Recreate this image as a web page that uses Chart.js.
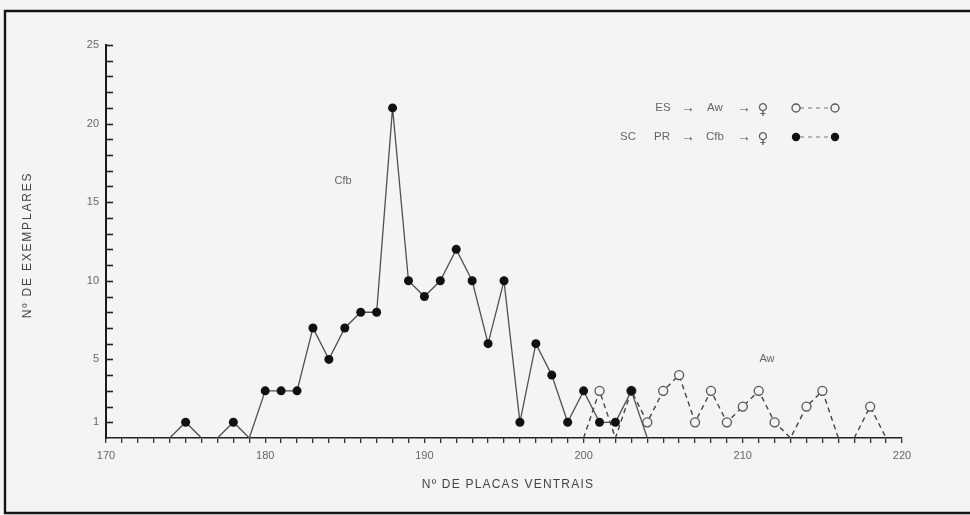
<!DOCTYPE html>
<html>
<head>
<meta charset="utf-8">
<script src="https://cdn.jsdelivr.net/npm/chart.js@4"></script>
<style>
  html, body { margin: 0; padding: 0; background: #f4f4f4; }
  #wrap { width: 970px; height: 515px; }
</style>
</head>
<body>
<div id="wrap"><canvas id="placasChart" width="970" height="515"></canvas></div>
<script>
// Nº de placas ventrais - Cfb (SC, PR) e Aw (ES)

const cfbPlacas = [174, 175, 176, 177, 178, 179, 180, 181, 182, 183, 184, 185, 186, 187, 188, 189,
    190, 191, 192, 193, 194, 195, 196, 197, 198, 199, 200, 201, 202, 203, 204];
const cfbExemplares = [0, 1, 0, 0, 1, 0, 3, 3, 3, 7, 5, 7, 8, 8, 21, 10,
    9, 10, 12, 10, 6, 10, 1, 6, 4, 1, 3, 1, 1, 3, 0];

const awPlacas = [200, 201, 202, 203, 204, 205, 206, 207, 208, 209, 210, 211, 212, 213, 214, 215,
    216, 217, 218, 219];
const awExemplares = [0, 3, 0, 3, 1, 3, 4, 1, 3, 1, 2, 3, 1, 0, 2, 3,
    0, 0, 2, 0];

const xLabels = [170, 180, 190, 200, 210, 220];
const yLabels = [1, 5, 10, 15, 20, 25];

const FONT = "'Liberation Sans', Arial, sans-serif";

// zero -> zero segments are not drawn (the figure breaks the line there)
const skipFlat = ctx => (ctx.p0.parsed.y === 0 && ctx.p1.parsed.y === 0) ? 'rgba(0,0,0,0)' : undefined;
const dotSize = ctx => (ctx.raw && ctx.raw.y === 0) ? 0 : 4.5;

const extras = {
    id: "extras",
    afterDraw(chart) {
        const c = chart.ctx;
        const y = chart.scales.y;
        const area = chart.chartArea;
        c.save();

        // inward ticks on y axis
        c.strokeStyle = "#222";
        c.lineWidth = 1.6;
        for (let v = 1; v <= 25; v++) {
            const py = Math.round(y.getPixelForValue(v)) + 0.5;
            c.beginPath();
            c.moveTo(area.left, py);
            c.lineTo(area.left + 7, py);
            c.stroke();
        }

        // frame
        c.strokeStyle = "#151515";
        c.lineWidth = 2.4;
        c.beginPath();
        c.moveTo(970, 11);
        c.lineTo(5, 11);
        c.lineTo(5, 513);
        c.lineTo(970, 513);
        c.stroke();

        // axis titles
        c.fillStyle = "#444";
        c.font = "12px " + FONT;
        c.textAlign = "center";
        c.textBaseline = "middle";
        c.letterSpacing = "1.2px";
        c.fillText("Nº DE PLACAS VENTRAIS", 508, 485);
        c.save();
        c.translate(28, 245);
        c.rotate(-Math.PI / 2);
        c.letterSpacing = "1.8px";
        c.fillText("Nº DE EXEMPLARES", 0, 0);
        c.restore();
        c.letterSpacing = "0px";

        // region labels
        c.fillStyle = "#666";
        c.font = "11px " + FONT;
        c.fillText("Cfb", 343, 181);
        c.fillText("Aw", 767, 359);

        // legend
        c.font = "11.5px " + FONT;
        c.fillStyle = "#666";
        const r1 = 108, r2 = 137;
        c.fillText("ES", 663, r1);
        c.fillText("Aw", 715, r1);
        c.fillText("SC", 628, r2);
        c.fillText("PR", 662, r2);
        c.fillText("Cfb", 715, r2);
        c.font = "bold 14px " + FONT;
        c.fillStyle = "#555";
        [r1, r2].forEach(r => {
            c.fillText("→", 688, r);
            c.fillText("→", 744, r);
        });
        c.font = "15px 'DejaVu Sans', sans-serif";
        c.fillStyle = "#666";
        c.fillText("♀", 763, r1 + 2);
        c.fillText("♀", 763, r2 + 2);

        c.strokeStyle = "#777";
        c.lineWidth = 1.2;
        c.setLineDash([4, 4]);
        c.beginPath();
        c.moveTo(800, r1); c.lineTo(831, r1);
        c.moveTo(800, r2); c.lineTo(831, r2);
        c.stroke();
        c.setLineDash([]);

        c.strokeStyle = "#555";
        c.lineWidth = 1.3;
        [796, 835].forEach(px => {
            c.beginPath();
            c.arc(px, r1, 4, 0, Math.PI * 2);
            c.fillStyle = "#f4f4f4";
            c.fill();
            c.stroke();
        });
        c.fillStyle = "#111";
        [796, 835].forEach(px => {
            c.beginPath();
            c.arc(px, r2, 4.2, 0, Math.PI * 2);
            c.fill();
        });
        c.restore();
    }
};

const ctx = document.getElementById("placasChart").getContext("2d");

new Chart(ctx, {
    type: "line",
    data: {
        datasets: [{
            label: "SC PR → Cfb → ♀",
            data: cfbPlacas.map((p, i) => ({ x: p, y: cfbExemplares[i] })),
            borderColor: "#505050",
            borderWidth: 1.3,
            pointRadius: dotSize,
            pointBackgroundColor: "#111",
            pointBorderWidth: 0,
            segment: { borderColor: skipFlat },
            tension: 0
        }, {
            label: "ES → Aw → ♀",
            data: awPlacas.map((p, i) => ({ x: p, y: awExemplares[i] })),
            borderColor: "#444",
            borderWidth: 1.4,
            borderDash: [5, 4],
            pointRadius: dotSize,
            pointBackgroundColor: "#f4f4f4",
            pointBorderColor: "#555",
            pointBorderWidth: 1.3,
            segment: { borderColor: skipFlat },
            tension: 0
        }]
    },
    options: {
        responsive: false,
        animation: false,
        layout: { padding: { top: 45, right: 68, bottom: 0, left: 0 } },
        plugins: {
            legend: { display: false },
            tooltip: { enabled: false }
        },
        scales: {
            x: {
                type: "linear",
                min: 170,
                max: 220,
                afterFit: s => { s.height = 77; },
                border: { color: "#222", width: 1.6 },
                grid: { drawOnChartArea: false, drawTicks: true, tickLength: 5, color: "#333", lineWidth: 1.3 },
                ticks: {
                    stepSize: 1,
                    autoSkip: false,
                    maxRotation: 0,
                    padding: 6,
                    color: "#666",
                    font: { family: FONT, size: 11 },
                    callback: v => xLabels.includes(v) ? v : ""
                }
            },
            y: {
                min: 0,
                max: 25,
                afterFit: s => { s.width = 106; },
                border: { color: "#1a1a1a", width: 2 },
                grid: { drawOnChartArea: false, drawTicks: false },
                ticks: {
                    stepSize: 1,
                    autoSkip: false,
                    padding: 7,
                    color: "#666",
                    font: { family: FONT, size: 11 },
                    callback: v => yLabels.includes(v) ? v : ""
                }
            }
        }
    },
    plugins: [extras]
});
</script>
</body>
</html>
